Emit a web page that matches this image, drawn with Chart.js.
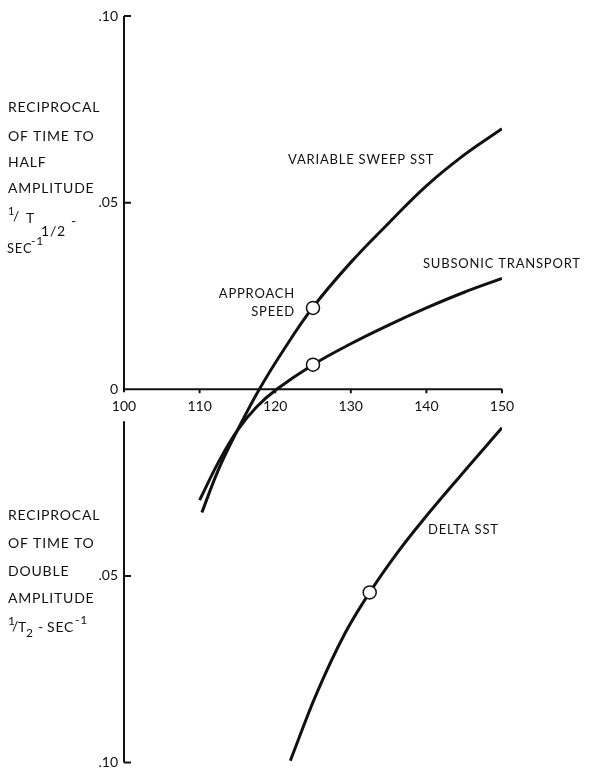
<!DOCTYPE html>
<html>
<head>
<meta charset="utf-8">
<script src="https://cdn.jsdelivr.net/npm/chart.js@4"></script>
<style>
  body { margin: 0; background: #fff; }
  #wrap { width: 590px; height: 777px; }
</style>
</head>
<body>
<div id="wrap"><canvas id="chart" width="590" height="777"></canvas></div>
<script>
// ticks
const xTicks = [100, 110, 120, 130, 140, 150];
const yTicks = [0.10, 0.05, 0, -0.05, -0.10];
const yTickLabels = ['.10', '.05', '0', '.05', '.10'];

// curves (speed, 1/T)
const sweepX = [110.3, 112.5, 115, 117.9, 121, 125, 130, 135, 140, 145, 150];
const sweepY = [-0.033, -0.0215, -0.011, 0, 0.0102, 0.022, 0.034, 0.0445, 0.0545, 0.0628, 0.0698];

const subsonicX = [110, 112.5, 115, 117.5, 120.2, 125, 130, 135, 140, 145, 150];
const subsonicY = [-0.0297, -0.0195, -0.011, -0.0048, 0, 0.0066, 0.0122, 0.0172, 0.0218, 0.0260, 0.0297];

const deltaX = [122, 125.5, 129.2, 132.5, 136, 139.4, 144.4, 150];
const deltaY = [-0.0995, -0.0814, -0.0655, -0.0544, -0.0442, -0.0354, -0.0234, -0.0103];

// approach speed circles
const markerX = [125, 125, 132.5];
const markerY = [0.0218, 0.0066, -0.0544];

const INK = '#111';
const FONT = 'Lato, "DejaVu Sans", sans-serif';

function pts(xs, ys) {
    return xs.map((x, i) => ({ x: x, y: ys[i] }));
}

function curve(label, data) {
    return {
        label: label,
        data: data,
        borderColor: INK,
        borderWidth: 3,
        pointRadius: 0,
        fill: false,
        tension: 0.4,
        order: 2
    };
}

function txt(ctx, s, x, y, size, align) {
    ctx.font = size + 'px ' + FONT;
    ctx.textAlign = align || 'left';
    ctx.textBaseline = 'middle';
    ctx.fillText(s, x, y);
}

const axesPlugin = {
    id: 'axes',
    beforeDatasetsDraw(chart) {
        const ctx = chart.ctx;
        const xs = chart.scales.x, ys = chart.scales.y;
        const x0 = xs.getPixelForValue(100), x1 = xs.getPixelForValue(150);
        const y0 = ys.getPixelForValue(0);
        ctx.save();
        ctx.strokeStyle = INK;
        ctx.lineWidth = 2;
        ctx.beginPath();
        ctx.moveTo(x0, y0); ctx.lineTo(x1, y0);
        xTicks.forEach(v => {
            if (v === 100) return;
            const px = xs.getPixelForValue(v);
            ctx.moveTo(px, y0); ctx.lineTo(px, y0 + 4);
        });
        // y axis, broken under the "100" label
        ctx.moveTo(x0, ys.getPixelForValue(0.1)); ctx.lineTo(x0, y0 + 3);
        ctx.moveTo(x0, y0 + 32); ctx.lineTo(x0, ys.getPixelForValue(-0.1));
        yTicks.forEach(v => {
            if (v === 0) return;
            const py = ys.getPixelForValue(v);
            ctx.moveTo(x0, py); ctx.lineTo(x0 + 7, py);
        });
        ctx.stroke();
        ctx.restore();
    },
    afterDraw(chart) {
        const ctx = chart.ctx;
        ctx.save();
        ctx.fillStyle = INK;
        if ('letterSpacing' in ctx) ctx.letterSpacing = '0.8px';

        // upper axis title
        txt(ctx, 'RECIPROCAL', 8, 107, 14);
        txt(ctx, 'OF TIME TO', 8, 136, 14);
        txt(ctx, 'HALF', 8, 162, 14);
        txt(ctx, 'AMPLITUDE', 8, 188, 14);
        txt(ctx, '1', 8, 211, 11);
        txt(ctx, '/', 13, 216, 14);
        txt(ctx, 'T', 26, 218, 14);
        txt(ctx, '1/2', 41, 231, 14);
        txt(ctx, '-', 71, 221, 14);
        txt(ctx, 'SEC', 7, 249, 13);
        txt(ctx, '-1', 31, 241, 12);

        // lower axis title
        txt(ctx, 'RECIPROCAL', 8, 515, 14);
        txt(ctx, 'OF TIME TO', 8, 543, 14);
        txt(ctx, 'DOUBLE', 8, 571, 14);
        txt(ctx, 'AMPLITUDE', 8, 598, 14);
        txt(ctx, '1', 8, 621, 12);
        txt(ctx, '/', 12, 626, 14);
        txt(ctx, 'T', 18, 627, 14);
        txt(ctx, '2', 26, 633, 12);
        txt(ctx, '-', 38, 627, 14);
        txt(ctx, 'SEC', 47, 627, 14);
        txt(ctx, '-1', 75, 620, 12);

        // curve labels
        txt(ctx, 'VARIABLE SWEEP SST', 288, 160, 13);
        txt(ctx, 'SUBSONIC TRANSPORT', 423, 264, 13);
        txt(ctx, 'APPROACH', 295, 294, 13, 'right');
        txt(ctx, 'SPEED', 295, 312, 13, 'right');
        txt(ctx, 'DELTA SST', 428, 530, 13);
        ctx.restore();
    }
};

new Chart(document.getElementById('chart'), {
    type: 'line',
    data: {
        datasets: [
            {
                label: 'Approach speed',
                data: pts(markerX, markerY),
                showLine: false,
                pointRadius: 6.5,
                pointBackgroundColor: '#fff',
                pointBorderColor: INK,
                pointBorderWidth: 1.5,
                order: 0
            },
            curve('Variable sweep SST', pts(sweepX, sweepY)),
            curve('Subsonic transport', pts(subsonicX, subsonicY)),
            curve('Delta SST', pts(deltaX, deltaY))
        ]
    },
    options: {
        responsive: false,
        animation: false,
        layout: { padding: { left: 0, top: 16, right: 88, bottom: 7 } },
        plugins: { legend: { display: false }, tooltip: { enabled: false } },
        scales: {
            x: {
                type: 'linear',
                min: 100,
                max: 150,
                position: { y: 0 },
                grid: { display: false, drawTicks: false },
                border: { display: false },
                afterBuildTicks: s => { s.ticks = xTicks.map(v => ({ value: v })); },
                ticks: {
                    padding: 9,
                    maxRotation: 0,
                    autoSkip: false,
                    color: INK,
                    font: { family: FONT, size: 14 }
                }
            },
            y: {
                type: 'linear',
                min: -0.1,
                max: 0.1,
                position: 'left',
                grid: { display: false, drawTicks: false },
                border: { display: false },
                afterBuildTicks: s => { s.ticks = yTicks.map(v => ({ value: v })); },
                afterFit: s => { s.width = 124; },
                ticks: {
                    padding: 6,
                    color: INK,
                    font: { family: FONT, size: 14 },
                    callback: v => yTickLabels[yTicks.indexOf(v)]
                }
            }
        }
    },
    plugins: [axesPlugin]
});
</script>
</body>
</html>
